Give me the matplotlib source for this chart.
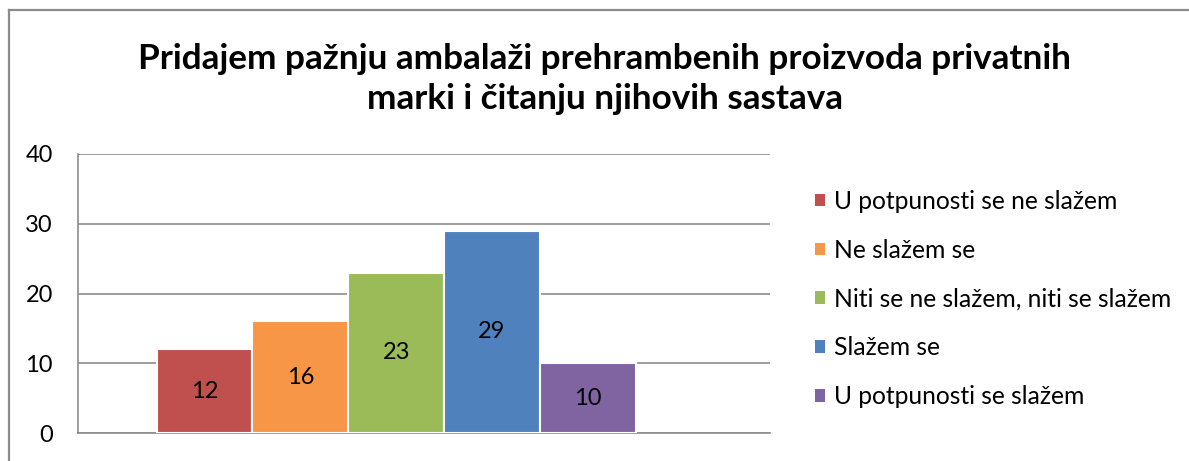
import matplotlib
matplotlib.use("Agg")
import matplotlib.pyplot as plt
from matplotlib.lines import Line2D
from matplotlib.patches import Patch

title = "Pridajem pažnju ambalaži prehrambenih proizvoda privatnih\nmarki i čitanju njihovih sastava"
categories = ["U potpunosti se ne slažem", "Ne slažem se", "Niti se ne slažem, niti se slažem",
              "Slažem se", "U potpunosti se slažem"]
values = [12, 16, 23, 29, 10]
colors = ["#C0504D", "#F79646", "#9BBB59", "#4F81BD", "#8064A2"]
yticks = [0, 10, 20, 30, 40]

plt.rcParams['font.family'] = ['Lato', 'DejaVu Sans']

W, H = 1189, 461
fig = plt.figure(figsize=(W / 100, H / 100), dpi=100)

# outer frame (top and left edges only visible)
fig.lines.append(Line2D([9 / W, 1.0], [1 - 10 / H, 1 - 10 / H], transform=fig.transFigure,
                        color="#8C8C8C", linewidth=1.6))
fig.lines.append(Line2D([9 / W, 9 / W], [0, 1 - 10 / H], transform=fig.transFigure,
                        color="#8C8C8C", linewidth=1.6))

ax = fig.add_axes([78 / W, 1 - 433 / H, (770 - 78) / W, (433 - 154) / H])
x = list(range(len(values)))
bars = ax.bar(x, values, width=1.0, color=colors, edgecolor="white", linewidth=1.5, zorder=3)
for b, v in zip(bars, values):
    ax.text(b.get_x() + b.get_width() / 2, v / 2, str(v), ha="center", va="center",
            fontsize=17, color="black", zorder=4)

ax.set_xlim(-1.32, 5.90)
ax.set_ylim(0, 40)
ax.set_yticks(yticks)
ax.set_yticklabels([str(t) for t in yticks], fontsize=17)
ax.set_xticks([])
ax.tick_params(axis="y", length=0, pad=18)
ax.yaxis.grid(True, color="#8C8C8C", linewidth=1.2, zorder=0)
for s in ["top", "right"]:
    ax.spines[s].set_visible(False)
for s in ["left", "bottom"]:
    ax.spines[s].set_color("#8C8C8C")
    ax.spines[s].set_linewidth(1.2)

handles = [Patch(facecolor=c, edgecolor="none") for c in colors]
fig.legend(handles, categories, loc="upper left", bbox_to_anchor=(805 / W, 1 - 180 / H),
           frameon=False, fontsize=17.7, handlelength=0.42, handleheight=0.42,
           handletextpad=0.38, labelspacing=1.05, borderaxespad=0)

fig.text(605 / W, 1 - 79 / H, title, ha="center", va="center", fontsize=25.3,
         fontweight="bold", linespacing=1.3)

fig.savefig("out.png", dpi=100)
